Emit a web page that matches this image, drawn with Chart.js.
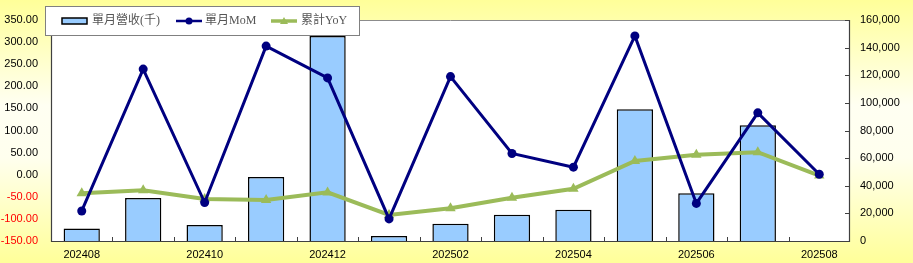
<!DOCTYPE html>
<html><head><meta charset="utf-8">
<script src="https://cdn.jsdelivr.net/npm/chart.js@4/dist/chart.umd.min.js"></script>
<style>html,body{margin:0;padding:0;background:#fff;}#wrap{width:913px;height:263px;position:relative;}</style>
</head><body><div id="wrap"><canvas id="c" width="913" height="263"></canvas></div>
<script>
const categories = ['202408','202409','202410','202411','202412','202501','202502','202503','202504','202505','202506','202507','202508'];
const revenue = [9000, 31100, 11600, 46300, 148400, 3600, 12500, 19000, 22700, 95300, 34500, 83800, null];
const mom = [-82, 239, -63, 291, 219, -100, 222, 48, 17, 314, -65, 140, 1];
const yoy = [-42, -35, -55, -57, -40, -91, -76, -52, -32, 31, 45, 51, -2];
const leftTicks = {min: -150, max: 350, step: 50};
const rightTicks = {min: 0, max: 160000, step: 20000};
const seriesNames = ['單月營收(千)', '單月MoM', '累計YoY'];

const bgPlugin = {
  id: 'bg',
  beforeDraw(chart) {
    const c = chart.ctx, a = chart.chartArea;
    c.save();
    const g = c.createLinearGradient(0, 0, 0, chart.height);
    g.addColorStop(0, '#FFFF99');
    g.addColorStop(0.4, '#FFFFF2');
    g.addColorStop(0.6, '#FFFFEE');
    g.addColorStop(1, '#FFFF99');
    c.fillStyle = g;
    c.fillRect(0, 0, chart.width, chart.height);
    c.fillStyle = '#FFFFFF';
    c.fillRect(a.left, a.top, a.right - a.left, a.bottom - a.top);
    c.restore();
  },
  afterDatasetsDraw(chart) {
    const c = chart.ctx, a = chart.chartArea;
    const xs = chart.scales.x, yr = chart.scales.y1;
    c.save();
    c.strokeStyle = '#8C8C8C'; c.lineWidth = 1;
    c.beginPath(); c.moveTo(a.left, a.top + 0.5); c.lineTo(a.right, a.top + 0.5); c.stroke();
    c.strokeStyle = '#404040'; c.lineWidth = 1.2;
    c.beginPath();
    c.moveTo(a.left + 0.5, a.top); c.lineTo(a.left + 0.5, a.bottom + 0.5);
    c.lineTo(a.right - 0.5, a.bottom + 0.5); c.lineTo(a.right - 0.5, a.top);
    c.stroke();
    c.lineWidth = 1;
    const n = categories.length;
    const w = (xs.right - xs.left) / n;
    for (let i = 1; i < n; i++) {
      const x = Math.round(xs.getPixelForValue(i) - w / 2) + 0.5;
      c.beginPath(); c.moveTo(x, a.bottom); c.lineTo(x, a.bottom - 4); c.stroke();
    }
    for (let v = rightTicks.min; v <= rightTicks.max; v += rightTicks.step) {
      const y = Math.round(yr.getPixelForValue(v)) + 0.5;
      c.beginPath(); c.moveTo(a.right, y); c.lineTo(a.right - 5, y); c.stroke();
    }
    c.restore();
  },
  afterDraw(chart) {
    const c = chart.ctx;
    const ds = chart.data.datasets;
    c.save();
    const bx = 45, by = 6, bw = 314, bh = 29;
    c.fillStyle = '#FFFFFF';
    c.fillRect(bx, by, bw, bh);
    c.strokeStyle = '#808080'; c.lineWidth = 1;
    c.strokeRect(bx + 0.5, by + 0.5, bw, bh);
    const cy = 21;
    c.font = '12px "Liberation Serif", "Noto Sans CJK TC", serif';
    c.textBaseline = 'middle';
    c.fillStyle = ds[0].backgroundColor;
    c.fillRect(62, cy - 3, 25, 6);
    c.strokeStyle = '#000'; c.lineWidth = 1.5;
    c.strokeRect(62, cy - 3, 25, 6);
    c.fillStyle = '#555555';
    c.fillText(seriesNames[0], 92, cy);
    c.strokeStyle = ds[1].borderColor; c.lineWidth = 2.5;
    c.beginPath(); c.moveTo(176, cy); c.lineTo(202, cy); c.stroke();
    c.fillStyle = ds[1].borderColor;
    c.beginPath(); c.arc(189, cy, 3.5, 0, Math.PI * 2); c.fill();
    c.fillStyle = '#555555';
    c.fillText(seriesNames[1], 205, cy);
    c.strokeStyle = ds[2].borderColor; c.lineWidth = 3.5;
    c.beginPath(); c.moveTo(271, cy); c.lineTo(297, cy); c.stroke();
    c.fillStyle = ds[2].borderColor;
    c.beginPath(); c.moveTo(284, cy - 4); c.lineTo(288, cy + 3); c.lineTo(280, cy + 3); c.closePath(); c.fill();
    c.fillStyle = '#555555';
    c.fillText(seriesNames[2], 301, cy);
    c.restore();
  }
};

new Chart(document.getElementById('c'), {
  type: 'bar',
  data: {
    labels: categories,
    datasets: [
      {type: 'bar', label: seriesNames[0], data: revenue, yAxisID: 'y1', order: 3,
       backgroundColor: '#99CCFF', borderColor: '#000000', borderWidth: 1.5,
       barPercentage: 0.59, categoryPercentage: 1.0},
      {type: 'line', label: seriesNames[1], data: mom, yAxisID: 'y', order: 1,
       borderColor: '#000080', backgroundColor: '#000080', borderWidth: 3,
       pointRadius: 4.5, pointBackgroundColor: '#000080', pointBorderWidth: 0, tension: 0},
      {type: 'line', label: seriesNames[2], data: yoy, yAxisID: 'y', order: 2,
       borderColor: '#9BBB59', backgroundColor: '#9BBB59', borderWidth: 4,
       pointStyle: 'triangle', pointRadius: 6, pointBackgroundColor: '#9BBB59', pointBorderWidth: 0, tension: 0}
    ]
  },
  options: {
    responsive: false, animation: false, devicePixelRatio: 1,
    layout: {padding: {top: 20, left: 0, right: 0, bottom: 0}},
    plugins: {legend: {display: false}, tooltip: {enabled: false}},
    scales: {
      x: {
        offset: true,
        grid: {display: false, drawTicks: false},
        border: {display: false},
        ticks: {
          autoSkip: false, maxRotation: 0, padding: 7,
          color: '#000', font: {family: 'Liberation Sans, Arial', size: 11},
          callback: function(v, i) { return i % 2 === 0 ? categories[i] : ''; }
        },
        afterFit(s) { s.height = 22; }
      },
      y: {
        position: 'left', min: leftTicks.min, max: leftTicks.max,
        grid: {display: false, drawTicks: false},
        border: {display: false},
        ticks: {
          stepSize: leftTicks.step, padding: 13,
          font: {family: 'Liberation Sans, Arial', size: 11},
          color: (ctx) => ctx.tick && ctx.tick.value < 0 ? '#FF0000' : '#000000',
          callback: (v) => Number(v).toFixed(2)
        },
        afterFit(s) { s.width = 51; }
      },
      y1: {
        position: 'right', min: rightTicks.min, max: rightTicks.max,
        grid: {display: false, drawTicks: false},
        border: {display: false},
        ticks: {
          stepSize: rightTicks.step, padding: 10,
          font: {family: 'Liberation Sans, Arial', size: 11}, color: '#000',
          callback: (v) => Number(v).toLocaleString('en-US')
        },
        afterFit(s) { s.width = 63; }
      }
    }
  },
  plugins: [bgPlugin]
});
</script>
</body></html>
